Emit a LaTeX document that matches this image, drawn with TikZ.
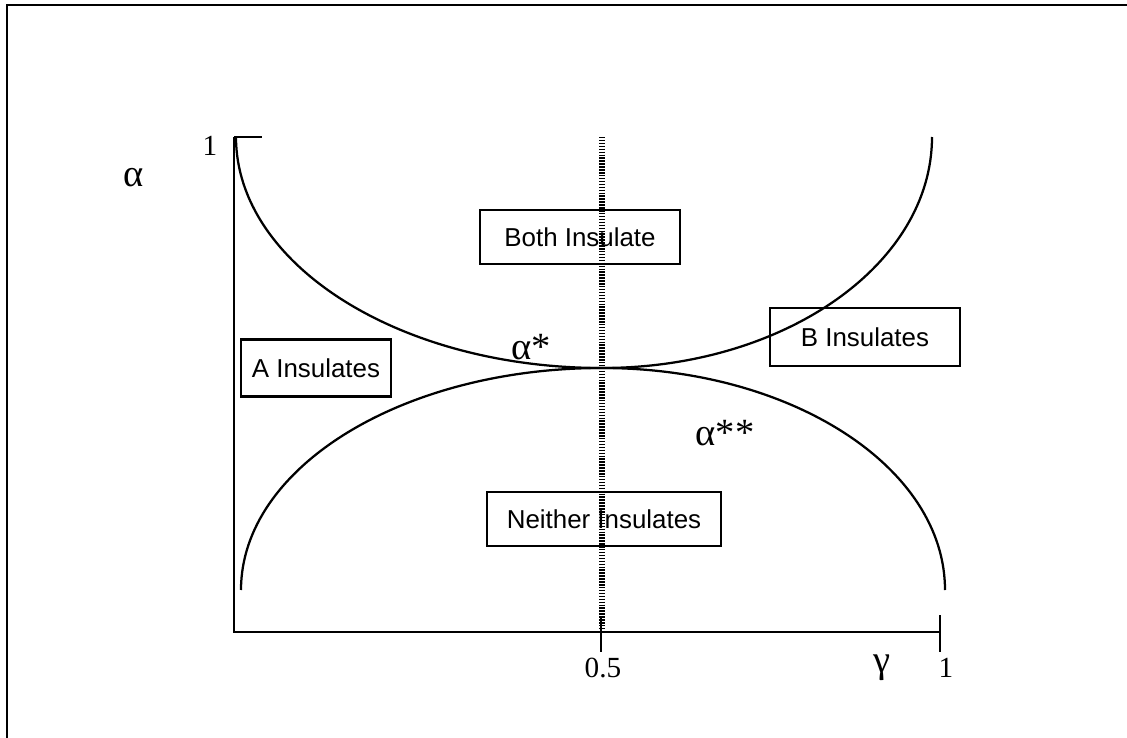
\documentclass[tikz,border=0pt]{standalone}
\usepackage{fontspec}
\setmainfont{Liberation Serif}
\newfontfamily\boxfont{Liberation Sans}
\usepackage{tikz}
\usetikzlibrary{positioning}
\newcommand\gk[1]{{\fontsize{29}{29}\selectfont #1}}

\begin{document}
\begin{tikzpicture}[x=0.2646mm, y=-0.2646mm,
    every node/.style={align=center, inner sep=0pt},
    region/.style={draw, line width=1.6pt, font=\boxfont\fontsize{19.5}{20}\selectfont},
    mathlbl/.style={font=\fontsize{22}{22}\selectfont},
    curve/.style={line width=1.7pt},
    axis/.style={line width=1.9pt}]
  \useasboundingbox (0,0) rectangle (1127,738);

  % frame (cut at right and bottom)
  \draw[line width=1.6pt] (7,738) -- (7,5) -- (1127,5);

  % axes
  \coordinate (o) at (234,632);
  \coordinate (ytop) at (234,137);
  \coordinate (xend) at (940,632);
  \draw[axis] (ytop) -- (o) -- (xend);
  \draw[axis] (ytop) -- (262,137);
  \draw[axis] (601,617) -- (601,652);
  \draw[axis] (940,615) -- (940,652);

  \node[mathlbl] (one-y) at (210,146) {1};
  \node[mathlbl] (alpha) at (134,178) {\gk{α}};
  \node[mathlbl] (half) at (603,668) {0.5};
  \node[mathlbl] (gamma) at (882,668) {\gk{γ}};
  \node[mathlbl] (one-x) at (946,668) {1};

  % middle line
  \draw[line width=4.5pt, dash pattern=on 1.1pt off 1.1pt] (602,137) -- (602,632);

  % the two boundaries
  \draw[curve] (236,137) arc[start angle=180, end angle=90, x radius=366, y radius=231]
                         arc[start angle=90, end angle=0, x radius=330, y radius=231];
  \draw[curve] (241,590) arc[start angle=180, end angle=270, x radius=361, y radius=222]
                         arc[start angle=270, end angle=360, x radius=343, y radius=222];

  \node[mathlbl] (astar) at (531,347) {\gk{α*}};
  \node[mathlbl] (astar2) at (725,433) {\gk{α**}};

  % regions
  \node[region, minimum width=52.9mm, minimum height=14.1mm] (both) at (580,237) {Both Insulate};
  \node[region, minimum width=39.7mm, minimum height=15.1mm] (ains) at (316,368) {A Insulates};
  \node[region, minimum width=50.3mm, minimum height=15.3mm] (bins) at (865,337) {B Insulates};
  \node[region, minimum width=61.9mm, minimum height=14.3mm] (neither) at (604,519) {Neither Insulates};
\end{tikzpicture}
\end{document}
